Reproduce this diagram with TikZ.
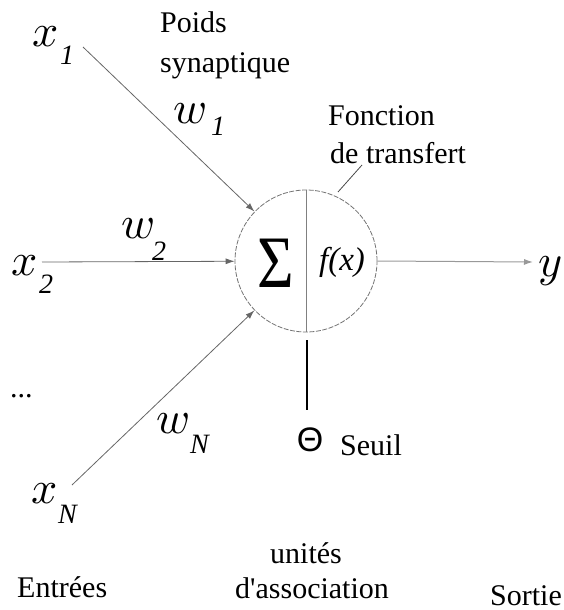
\documentclass[tikz,border=0pt]{standalone}
\usepackage{fontspec}
\setmainfont{Liberation Serif}
\newfontfamily\thetafont{Liberation Sans}
\usetikzlibrary{arrows.meta}
\newcommand{\bigvar}[1]{\scalebox{4.6}{$#1$}}
\tikzset{
  txt/.style={inner sep=0pt, font=\fontsize{30}{36}\selectfont},
  var/.style={inner sep=0pt, anchor=base west},
  sub/.style={inner sep=0pt, anchor=base west, font=\fontsize{28}{30}\selectfont\itshape},
  inarrow/.style={draw=black!60, line width=0.8pt, -{Latex[length=9pt,width=6pt]}},
  outarrow/.style={draw=black!40, line width=1pt, -{Latex[length=9pt,width=6pt]}},
  neuronstyle/.style={circle, minimum size=142pt, inner sep=0pt, draw=black!55, line width=0.8pt, dash pattern=on 5pt off 1.5pt}
}
\begin{document}
\begin{tikzpicture}[x=1pt,y=-1pt]
\useasboundingbox (0,0) rectangle (563,610);
% neuron
\node[neuronstyle] (neuron) at (306,261) {};
\draw[black!50, line width=0.8pt] (neuron.north) -- (neuron.south);
\node[inner sep=0pt, font=\fontsize{74}{74}\selectfont] (sigma) at (276,263) {\scalebox{0.85}[1]{Σ}};
\node[inner sep=0pt, font=\fontsize{33}{36}\selectfont\itshape] (fx) at (342,262) {f(x)};
% inputs
\node[var] (x1) at (32,47) {\bigvar{x}};
\node[sub] (x1s) at (60,65) {1};
\node[var] (x2) at (11,275) {\bigvar{x}};
\node[sub] (x2s) at (39,293) {2};
\node[var] (xN) at (31,503) {\bigvar{x}};
\node[sub] (xNs) at (58,523) {N};
\node[txt, anchor=base west] (dots) at (10,397) {...};
\coordinate (s1) at (83,47);
\coordinate (s2) at (42,262);
\coordinate (sN) at (72,485);
\draw[inarrow] (s1) -- (neuron);
\draw[inarrow] (s2) -- (neuron);
\draw[inarrow] (sN) -- (neuron);
% weights
\node[var] (w1) at (173,123) {\bigvar{w}};
\node[sub] (w1s) at (211,135) {1};
\node[var] (w2) at (121,238) {\bigvar{w}};
\node[sub] (w2s) at (152,260) {2};
\node[var] (wN) at (156,433) {\bigvar{w}};
\node[sub] (wNs) at (190,453) {N};
\node[txt, anchor=base west] (poids1) at (160,33) {Poids};
\node[txt, anchor=base west] (poids2) at (160,72) {synaptique};
% transfer function label
\node[txt, anchor=base west] (fonc1) at (328,125) {Fonction};
\node[txt, anchor=base west] (fonc2) at (330,163) {de transfert};
\coordinate (tickA) at (338,192);
\coordinate (tickB) at (362,165);
\draw[black!70, line width=0.8pt] (tickA) -- (tickB);
% output
\coordinate (yend) at (533,262);
\draw[outarrow] (neuron.east) -- (yend);
\node[var] (y) at (538,276) {\bigvar{y}};
% threshold
\coordinate (thtop) at (307,340);
\coordinate (thbot) at (307,410);
\draw[black, line width=1.5pt] (thtop) -- (thbot);
\node[inner sep=0pt, font=\fontsize{34}{36}\selectfont\thetafont] (theta) at (310,440) {Θ};
\node[txt, anchor=base west] (seuil) at (340,455) {Seuil};
% bottom labels
\node[txt, anchor=base west] (entrees) at (17,597) {Entrées};
\node[txt, anchor=base] (unites1) at (306,563) {unités};
\node[txt, anchor=base west] (unites2) at (235,598) {d\textquotesingle association};
\node[txt, anchor=base west] (sortie) at (490,605) {Sortie};
\end{tikzpicture}
\end{document}
